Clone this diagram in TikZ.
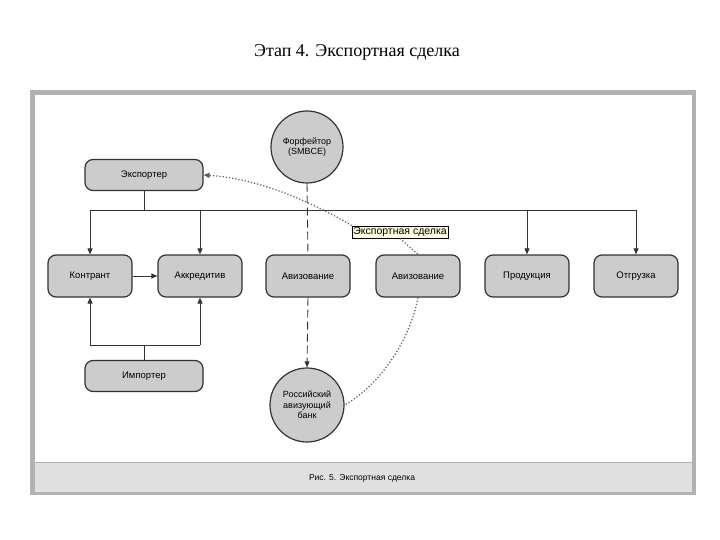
\documentclass[tikz,border=0pt]{standalone}
\usepackage{fontspec}
\setmainfont{Liberation Serif}
\newfontfamily\sansf{Liberation Sans}
\usetikzlibrary{arrows.meta}
\begin{document}
\begin{tikzpicture}[x=1pt,y=-1pt,
  box/.style={draw=black!80,line width=1.2pt,fill=black!20,rounded corners=8pt,minimum width=84pt,minimum height=42pt,font=\sansf\fontsize{9.5}{10}\selectfont},
  wbox/.style={box,minimum width=118pt,minimum height=31pt},
  circ/.style={draw=black!80,line width=1.2pt,fill=black!20,circle,minimum size=72pt,align=center,font=\sansf\fontsize{9}{10.5}\selectfont,inner sep=0pt},
  ln/.style={draw=black!80,line width=0.9pt},
  arr/.style={ln,-{Triangle[length=6pt,width=5pt]}},
  dot/.style={draw=black!65,line width=1.2pt,dotted}]
\useasboundingbox (0,0) rectangle (720,540);
\node[font=\fontsize{18}{20}\selectfont] (title) at (357,52) {Этап 4. Экспортная сделка};
\fill[black!30] (30,90) rectangle (696,495);
\fill[white] (35,95) rectangle (692,462);
\fill[black!12] (35,463) rectangle (692,492);
\node[font=\sansf\fontsize{8.5}{10}\selectfont] (cap) at (362,478) {Рис. 5. Экспортная сделка};
\node[circ] (f) at (307,147) {Форфейтор\\(SMBCE)};
\node[circ,minimum size=74pt] (b) at (307,405) {Российский\\авизующий\\банк};
\node[wbox] (exp) at (144,175) {Экспортер};
\node[wbox] (imp) at (144,376) {Импортер};
\node[box] (k) at (90,276) {Контрант};
\node[box] (a) at (200,276) {Аккредитив};
\node[box] (av1) at (308,276) {Авизование};
\node[box] (av2) at (418,276) {Авизование};
\node[box] (p) at (527,276) {Продукция};
\node[box] (o) at (636,276) {Отгрузка};
\coordinate (hl) at (90,210); \coordinate (hr) at (636,210);
\draw[ln] (exp.south) -- (exp.south |- hl);
\draw[ln] (hl) -- (hr);
\draw[arr] (hl) -- (k.north);
\draw[arr] (a.north |- hl) -- (a.north);
\draw[arr] (p.north |- hl) -- (p.north);
\draw[arr] (hr) -- (o.north);
\draw[arr] (k.east) -- (a.west);
\coordinate (il) at (90,345); \coordinate (ir) at (200,345);
\draw[ln] (imp.north) -- (imp.north |- il);
\draw[ln] (il) -- (ir);
\draw[arr] (il) -- (k.south);
\draw[arr] (ir) -- (a.south);
\draw[ln,dashed,dash pattern=on 8pt off 4pt] (f.south) -- (av1.north);
\draw[arr,dashed,dash pattern=on 8pt off 4pt] (av1.south) -- (b.north);
\node[draw=black,fill=yellow!12,inner sep=1.5pt,font=\sansf\fontsize{10.5}{12}\selectfont] (lbl) at (400,232) {Экспортная сделка};
\draw[dot,-{Triangle[length=6pt,width=5pt]}] (lbl.north west) .. controls (300,195) and (250,178) .. (exp.east);
\draw[dot] (lbl.south) -- (av2.north);
\draw[dot] (av2.south) .. controls (410,340) and (380,385) .. (b.east);
\end{tikzpicture}
\end{document}
